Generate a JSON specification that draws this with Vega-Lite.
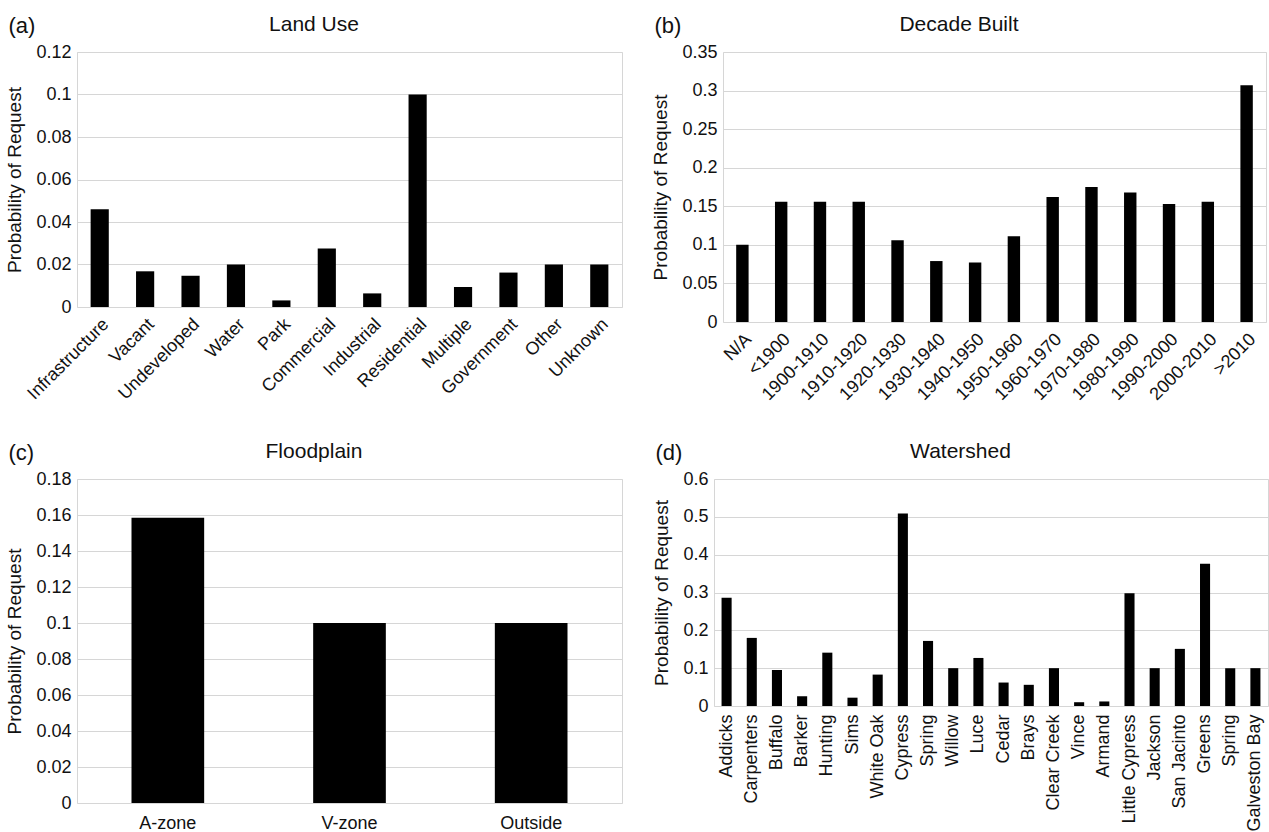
{
  "$schema": "https://vega.github.io/schema/vega-lite/v6.json",
  "padding": {"left": 5, "top": 13, "right": 0, "bottom": 0},
  "background": "white",
  "datasets": {
    "landuse": [
      {"category": "Infrastructure", "p": 0.046},
      {"category": "Vacant", "p": 0.0168},
      {"category": "Undeveloped", "p": 0.0147},
      {"category": "Water", "p": 0.02},
      {"category": "Park", "p": 0.0031},
      {"category": "Commercial", "p": 0.0275},
      {"category": "Industrial", "p": 0.0064},
      {"category": "Residential", "p": 0.1},
      {"category": "Multiple", "p": 0.0094},
      {"category": "Government", "p": 0.0162},
      {"category": "Other", "p": 0.02},
      {"category": "Unknown", "p": 0.02}
    ],
    "decade": [
      {"category": "N/A", "p": 0.1},
      {"category": "<1900", "p": 0.156},
      {"category": "1900-1910", "p": 0.156},
      {"category": "1910-1920", "p": 0.156},
      {"category": "1920-1930", "p": 0.106},
      {"category": "1930-1940", "p": 0.079},
      {"category": "1940-1950", "p": 0.077},
      {"category": "1950-1960", "p": 0.111},
      {"category": "1960-1970", "p": 0.162},
      {"category": "1970-1980", "p": 0.175},
      {"category": "1980-1990", "p": 0.168},
      {"category": "1990-2000", "p": 0.153},
      {"category": "2000-2010", "p": 0.156},
      {"category": ">2010", "p": 0.307}
    ],
    "flood": [
      {"category": "A-zone", "p": 0.1585},
      {"category": "V-zone", "p": 0.1},
      {"category": "Outside", "p": 0.1}
    ],
    "watershed": [
      {"category": "Addicks", "p": 0.286},
      {"category": "Carpenters", "p": 0.18},
      {"category": "Buffalo", "p": 0.095},
      {"category": "Barker", "p": 0.026},
      {"category": "Hunting", "p": 0.141},
      {"category": "Sims", "p": 0.022},
      {"category": "White Oak", "p": 0.083},
      {"category": "Cypress", "p": 0.509},
      {"category": "Spring", "p": 0.172},
      {"category": "Willow", "p": 0.1},
      {"category": "Luce", "p": 0.127},
      {"category": "Cedar", "p": 0.062},
      {"category": "Brays", "p": 0.056},
      {"category": "Clear Creek", "p": 0.1},
      {"category": "Vince", "p": 0.01},
      {"category": "Armand", "p": 0.012},
      {"category": "Little Cypress", "p": 0.298},
      {"category": "Jackson", "p": 0.1},
      {"category": "San Jacinto", "p": 0.151},
      {"category": "Greens", "p": 0.376},
      {"category": " Spring", "p": 0.1},
      {"category": "Galveston Bay", "p": 0.1}
    ]
  },
  "spacing": 35,
  "vconcat": [
    {
      "spacing": 28,
      "hconcat": [
        {
          "title": {"text": "(a)", "anchor": "start", "fontSize": 22, "dy": 32, "dx": 3},
          "vconcat": [
            {
              "title": {"text": "Land Use", "anchor": "middle", "frame": "bounds"},
              "width": 545,
              "height": 255,
              "data": {"name": "landuse"},
              "mark": {"type": "bar", "color": "black"},
              "encoding": {
                "x": {"field": "category", "type": "nominal", "sort": null, "title": null,
                      "scale": {"paddingInner": 0.6, "paddingOuter": 0.3},
                      "axis": {"labelAngle": -45, "labelPadding": 8}},
                "y": {"field": "p", "type": "quantitative", "title": "Probability of Request",
                      "scale": {"domain": [0, 0.12], "nice": false},
                      "axis": {"values": [0, 0.02, 0.04, 0.06, 0.08, 0.1, 0.12], "format": ".2~f"}}
              }
            }
          ]
        },
        {
          "title": {"text": "(b)", "anchor": "start", "fontSize": 22, "dy": 32, "dx": 3},
          "vconcat": [
            {
              "title": {"text": "Decade Built", "anchor": "middle", "frame": "bounds"},
              "width": 543,
              "height": 270,
              "data": {"name": "decade"},
              "mark": {"type": "bar", "color": "black"},
              "encoding": {
                "x": {"field": "category", "type": "nominal", "sort": null, "title": null,
                      "scale": {"paddingInner": 0.68, "paddingOuter": 0.34},
                      "axis": {"labelAngle": -45, "labelPadding": 8}},
                "y": {"field": "p", "type": "quantitative", "title": "Probability of Request",
                      "scale": {"domain": [0, 0.35], "nice": false},
                      "axis": {"values": [0, 0.05, 0.1, 0.15, 0.2, 0.25, 0.3, 0.35], "format": ".2~f"}}
              }
            }
          ]
        }
      ]
    },
    {
      "spacing": 29,
      "hconcat": [
        {
          "title": {"text": "(c)", "anchor": "start", "fontSize": 22, "dy": 32, "dx": 3},
          "vconcat": [
            {
              "title": {"text": "Floodplain", "anchor": "middle", "frame": "bounds"},
              "width": 545,
              "height": 324,
              "data": {"name": "flood"},
              "mark": {"type": "bar", "color": "black"},
              "encoding": {
                "x": {"field": "category", "type": "nominal", "sort": null, "title": null,
                      "scale": {"paddingInner": 0.6, "paddingOuter": 0.3},
                      "axis": {"labelAngle": 0, "labelPadding": 11}},
                "y": {"field": "p", "type": "quantitative", "title": "Probability of Request",
                      "scale": {"domain": [0, 0.18], "nice": false},
                      "axis": {"values": [0, 0.02, 0.04, 0.06, 0.08, 0.1, 0.12, 0.14, 0.16, 0.18], "format": ".2~f"}}
              }
            }
          ]
        },
        {
          "title": {"text": "(d)", "anchor": "start", "fontSize": 22, "dy": 32, "dx": 3},
          "vconcat": [
            {
              "title": {"text": "Watershed", "anchor": "middle", "frame": "bounds"},
              "width": 554,
              "height": 227,
              "data": {"name": "watershed"},
              "mark": {"type": "bar", "color": "black"},
              "encoding": {
                "x": {"field": "category", "type": "nominal", "sort": null, "title": null,
                      "scale": {"paddingInner": 0.6, "paddingOuter": 0.3},
                      "axis": {"labelAngle": -90, "labelPadding": 8}},
                "y": {"field": "p", "type": "quantitative", "title": "Probability of Request",
                      "scale": {"domain": [0, 0.6], "nice": false},
                      "axis": {"values": [0, 0.1, 0.2, 0.3, 0.4, 0.5, 0.6], "format": ".1~f"}}
              }
            }
          ]
        }
      ]
    }
  ],
  "config": {
    "font": "Liberation Sans",
    "view": {"stroke": "#d6d6d6"},
    "concat": {"spacing": 20},
    "axis": {
      "labelFont": "Liberation Sans",
      "labelFontSize": 18,
      "labelColor": "#111111",
      "titleFont": "Liberation Sans",
      "titleFontSize": 19,
      "titleFontWeight": "normal",
      "titleColor": "#111111",
      "gridColor": "#d6d6d6",
      "domain": false,
      "ticks": false
    },
    "axisX": {"grid": false},
    "axisY": {"grid": true, "labelPadding": 6, "titlePadding": 11},
    "title": {"font": "Liberation Sans", "fontSize": 21, "fontWeight": "normal", "color": "#111111", "offset": 8}
  }
}
